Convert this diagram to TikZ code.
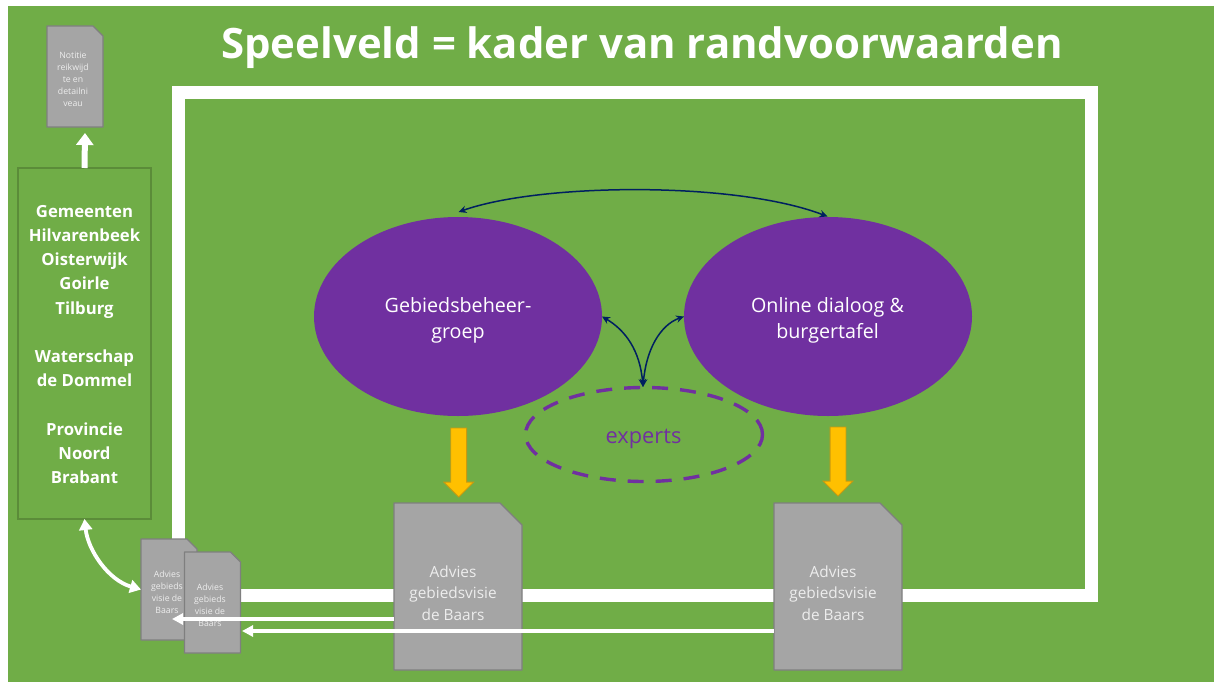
\documentclass[tikz,border=0pt]{standalone}
\usepackage{fontspec}
\setmainfont{Open Sans}
\usetikzlibrary{arrows.meta,shapes.arrows,shapes.geometric}
\definecolor{bggreen}{HTML}{70AD47}
\definecolor{boxline}{HTML}{5B8C39}
\definecolor{violet}{HTML}{7030A0}
\definecolor{docfill}{HTML}{A5A5A5}
\definecolor{docline}{HTML}{7F7F7F}
\definecolor{navyline}{HTML}{002060}
\definecolor{amber}{HTML}{FFC000}
\definecolor{amberline}{HTML}{C99A10}
\newcommand{\sheetoutline}[2]{%
  \draw[fill=docfill,draw=docline,line width=1.2pt,line join=round]
    (#1.north west) -- ([xshift=-#2]#1.north east) -- ([yshift=-#2]#1.north east)
    -- (#1.south east) -- (#1.south west) -- cycle;}
\tikzset{
  smalldoc/.style={rectangle,minimum width=56pt,minimum height=101pt,inner sep=0pt,outer sep=0pt},
  bigdoc/.style={rectangle,minimum width=128pt,minimum height=167pt,inner sep=0pt,outer sep=0pt},
  smalltext/.style={text=white!93!black,align=center,inner sep=0pt,font=\fontsize{8.7}{12.1}\selectfont},
  bigtext/.style={text=white!93!black,align=center,inner sep=0pt,font=\fontsize{15.4}{21.7}\selectfont},
  blob/.style={ellipse,fill=violet,minimum width=288pt,minimum height=199pt,inner sep=0pt,outer sep=0pt},
  blobtext/.style={text=white,align=center,inner sep=0pt,font=\fontsize{19.7}{26}\selectfont},
  flowdown/.style={single arrow,shape border rotate=270,fill=amber,draw=amberline,line width=.8pt,
    minimum width=29pt,minimum height=69pt,single arrow head extend=7pt,
    single arrow head indent=0pt,inner sep=7.5pt,outer sep=0pt,anchor=tail},
  whitearrow/.style={white,line width=3.2pt,-{Triangle[length=11pt,width=11pt]}},
  navyarrow/.style={navyline,line width=1.5pt,{Stealth[length=8pt,width=7.5pt]}-{Stealth[length=8pt,width=7.5pt]}},
}
\begin{document}
\begin{tikzpicture}[x=1pt,y=-1pt]
\useasboundingbox (0,0) rectangle (1214,682);
\fill[bggreen] (8,6) rectangle (1214,682);
% frame
\node[draw=white,line width=13pt,minimum width=913pt,minimum height=503pt,inner sep=0pt,outer sep=0pt] (frame) at (635,344) {};
\node[text=white,font=\bfseries\fontsize{41.9}{50}\selectfont] (title) at (642,48) {Speelveld = kader van randvoorwaarden};
% stakeholder box
\node[draw=boxline,line width=1.4pt,minimum width=133pt,minimum height=351pt,inner sep=0pt,outer sep=0pt] (partners) at (84.5,343.5) {};
\node[text=white,align=center,inner sep=0pt,font=\bfseries\fontsize{16.7}{24.2}\selectfont] (partnerstext) at (84.5,344.5)
  {Gemeenten\\Hilvarenbeek\\Oisterwijk\\Goirle\\Tilburg\\[24.2pt]Waterschap\\de Dommel\\[24.2pt]Provincie\\Noord\\Brabant};
% notitie
\node[smalldoc] (notitie) at (75,76.5) {};
\sheetoutline{notitie}{10pt}
\node[smalltext] (notitietext) at (73,79.5) {Notitie\\reikwijd\\te en\\detailni\\veau};
\coordinate (notitiein) at (85,133);
\draw[white,line width=6pt,-{Triangle[length=12pt,width=17pt]}] (partners.north) -- (notitiein);
% ellipses
\node[blob] (beheer) at (458,316.5) {};
\node[blobtext] (beheertext) at (458,320) {Gebiedsbeheer-\\groep};
\node[blob] (dialoog) at (828,316.5) {};
\node[blobtext] (dialoogtext) at (827.5,320) {Online dialoog \&\\burgertafel};
\node[ellipse,draw=violet,line width=3.4pt,dash pattern=on 16pt off 12pt,minimum width=237pt,minimum height=94pt,
  inner sep=0pt,outer sep=0pt] (experts) at (644,434.5) {};
\node[text=violet,inner sep=0pt,font=\fontsize{21.8}{26}\selectfont] (expertstext) at (643.5,439) {experts};
% navy links
\coordinate (beheertop) at (458.5,212);
\coordinate (dialoogtop) at (827.5,216.5);
\draw[navyarrow] (beheertop) .. controls (540,183) and (735,181) .. (dialoogtop);
\coordinate (expertstop) at (643,387);
\draw[navyarrow] (expertstop) .. controls (640,350) and (625,330) .. (beheer.east);
\draw[navyarrow] (expertstop) .. controls (646,350) and (660,325) .. (dialoog.west);
% orange arrows
\node[flowdown] (pijl1) at (458.7,428) {};
\node[flowdown] (pijl2) at (838,427) {};
% big docs
\node[bigdoc] (advies1) at (458,586.5) {};
\sheetoutline{advies1}{22pt}
\node[bigtext] (advies1text) at (453,593) {Advies\\gebiedsvisie\\de Baars};
\node[bigdoc] (advies2) at (838,586.5) {};
\sheetoutline{advies2}{22pt}
\node[bigtext] (advies2text) at (833,593) {Advies\\gebiedsvisie\\de Baars};
% small docs
\node[smalldoc] (kopie1) at (169,589.5) {};
\sheetoutline{kopie1}{10pt}
\node[smalltext] (kopie1text) at (167,592) {Advies\\gebieds\\visie de\\Baars};
\node[smalldoc] (kopie2) at (212.5,602.5) {};
\sheetoutline{kopie2}{10pt}
\node[smalltext] (kopie2text) at (210,605) {Advies\\gebieds\\visie de\\Baars};
% white links
\coordinate (uit1) at (394,619);
\coordinate (in1) at (172,619);
\coordinate (uit2) at (774,631);
\coordinate (in2) at (242,631);
\draw[whitearrow] (uit1) -- (in1);
\draw[whitearrow] (uit2) -- (in2);
\draw[white,line width=3.8pt,{Triangle[length=11pt,width=13pt]}-{Triangle[length=11pt,width=13pt]}]
  (partners.south) .. controls (88,550) and (108,580) .. (kopie1.west);
\end{tikzpicture}
\end{document}
